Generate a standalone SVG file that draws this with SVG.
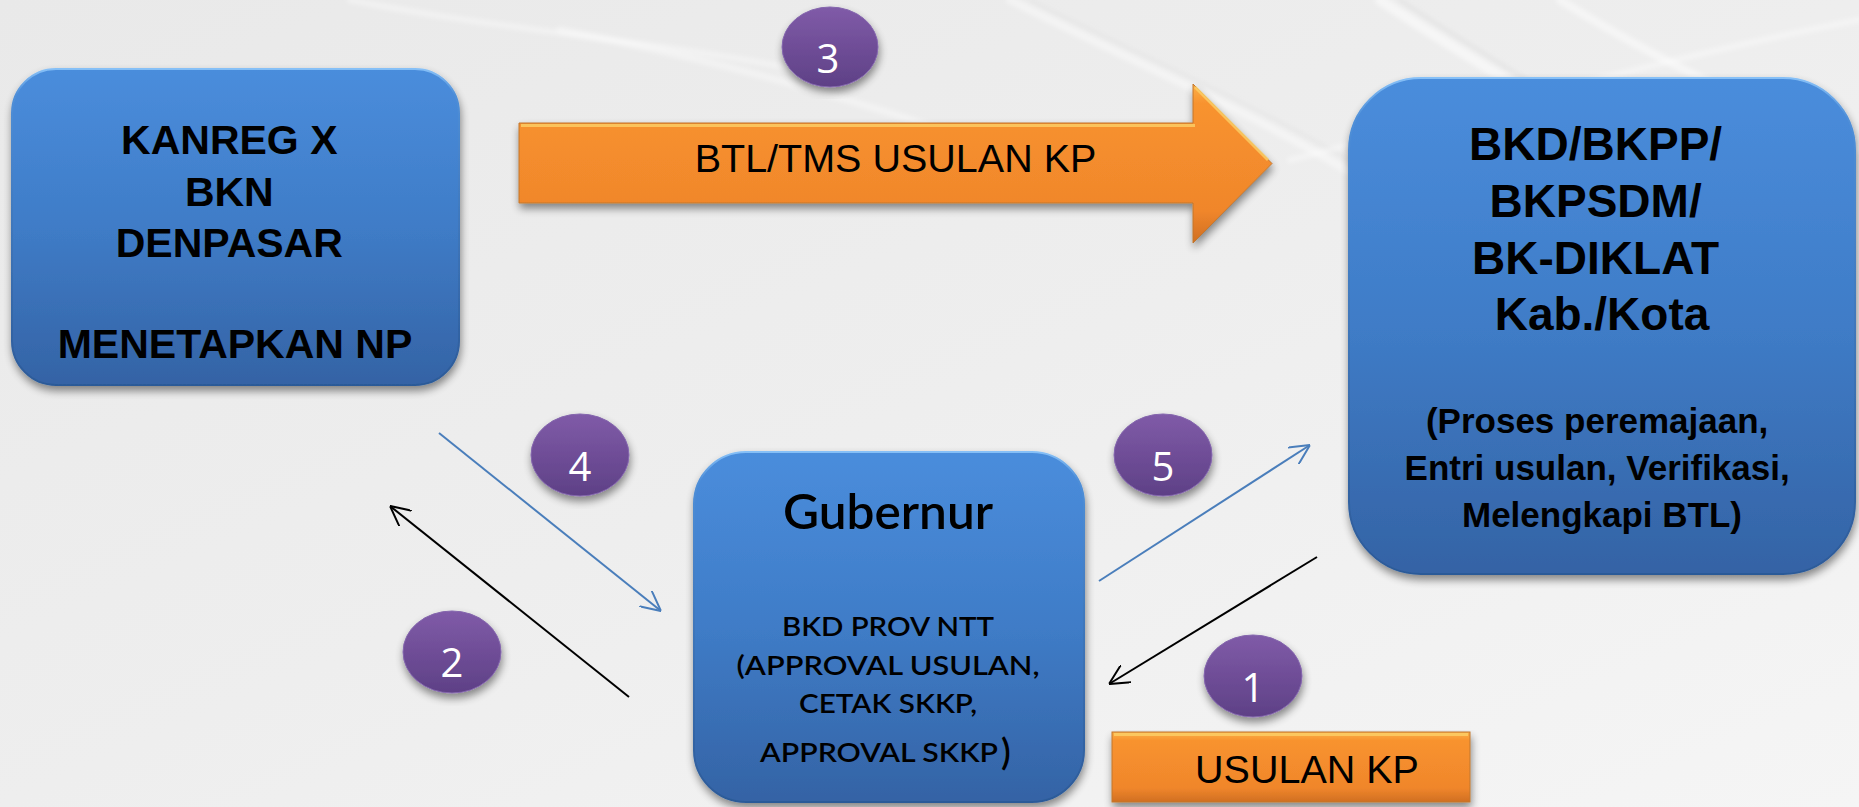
<svg xmlns="http://www.w3.org/2000/svg" width="1859" height="807" viewBox="0 0 1859 807">
<defs>
<linearGradient id="bg" x1="0" y1="0" x2="1" y2="1">
<stop offset="0" stop-color="#e9e9e9"/>
<stop offset="0.5" stop-color="#eeeeee"/>
<stop offset="1" stop-color="#f5f5f5"/>
</linearGradient>
<linearGradient id="blue" x1="0" y1="0" x2="0" y2="1">
<stop offset="0" stop-color="#4a8ddc"/>
<stop offset="0.5" stop-color="#3f7cc7"/>
<stop offset="1" stop-color="#3463a5"/>
</linearGradient>
<linearGradient id="blueEdge" x1="0" y1="0" x2="0" y2="1">
<stop offset="0" stop-color="#86c0f7"/>
<stop offset="0.08" stop-color="#4f8fd8"/>
<stop offset="1" stop-color="#2c5a98"/>
</linearGradient>
<linearGradient id="orange" x1="0" y1="0" x2="0" y2="1">
<stop offset="0" stop-color="#fbb048"/>
<stop offset="0.12" stop-color="#f8932f"/>
<stop offset="0.8" stop-color="#f0862b"/>
<stop offset="1" stop-color="#d06f22"/>
</linearGradient>
<linearGradient id="purple" x1="0" y1="0" x2="0" y2="1">
<stop offset="0" stop-color="#805ba8"/>
<stop offset="1" stop-color="#5e4086"/>
</linearGradient>
<filter id="shadow" x="-10%" y="-10%" width="120%" height="125%">
<feGaussianBlur in="SourceAlpha" stdDeviation="4"/>
<feOffset dx="1" dy="5" result="b"/>
<feComponentTransfer><feFuncA type="linear" slope="0.45"/></feComponentTransfer>
<feMerge><feMergeNode/><feMergeNode in="SourceGraphic"/></feMerge>
</filter>
<filter id="soft" x="-5%" y="-20%" width="110%" height="140%">
<feGaussianBlur stdDeviation="2"/>
</filter>
<marker id="headBlue" viewBox="0 0 10 10" refX="10" refY="5" markerWidth="10" markerHeight="10" markerUnits="strokeWidth" orient="auto">
<path d="M0,0 L10,5 L0,10" fill="none" stroke="#4a7ebb" stroke-width="1"/>
</marker>
<marker id="headBlack" viewBox="0 0 10 10" refX="10" refY="5" markerWidth="10" markerHeight="10" markerUnits="strokeWidth" orient="auto">
<path d="M0,0 L10,5 L0,10" fill="none" stroke="#000000" stroke-width="1"/>
</marker>
</defs>
<style>
.box{fill:url(#blue);stroke:url(#blueEdge);stroke-width:2;filter:url(#shadow)}
.arial{font-family:"Liberation Sans",Arial,sans-serif;fill:#000}
.bold{font-weight:bold}
.tw{font-family:Lato,"Open Sans",sans-serif;font-weight:600;fill:#000}
.badge{fill:url(#purple);stroke:#8466ad;stroke-width:1;filter:url(#shadow)}
.num{font-family:"Open Sans",Lato,sans-serif;font-size:40px;fill:#fff;text-anchor:middle}
.orange{fill:url(#orange);stroke:#c0762e;stroke-width:1;filter:url(#shadow)}
.conn-blue{stroke:#4a7ebb;stroke-width:2;fill:none;marker-end:url(#headBlue)}
.conn-black{stroke:#000;stroke-width:2;fill:none;marker-end:url(#headBlack)}
.streak{fill:none;stroke:#ffffff;stroke-linecap:round}
.streak-d{fill:none;stroke:#d8d8d8;stroke-linecap:round}
</style>
<rect x="0" y="0" width="1859" height="807" fill="url(#bg)"/>
<g id="background-streaks" filter="url(#soft)">
<path class="streak" d="M1380,0 C1470,60 1560,110 1700,200" stroke-width="10" opacity="0.5"/>
<path class="streak-d" d="M1400,0 C1490,60 1580,110 1720,200" stroke-width="4" opacity="0.35"/>
<path class="streak" d="M1560,0 C1640,50 1720,90 1859,150" stroke-width="8" opacity="0.45"/>
<path class="streak" d="M1010,0 C1150,70 1250,110 1380,190" stroke-width="8" opacity="0.4"/>
<path class="streak-d" d="M1030,0 C1170,70 1270,110 1400,190" stroke-width="3" opacity="0.3"/>
<path class="streak" d="M560,30 C720,60 900,110 1080,180" stroke-width="7" opacity="0.35"/>
<path class="streak" d="M350,0 C500,30 650,40 800,70" stroke-width="6" opacity="0.35"/>
<path class="streak" d="M1290,160 C1450,120 1650,60 1859,20" stroke-width="6" opacity="0.35"/>
</g>
<g id="connectors">
<line class="conn-blue" x1="439" y1="433" x2="661" y2="611"/>
<line class="conn-black" x1="629" y1="697" x2="390" y2="506"/>
<line class="conn-blue" x1="1099" y1="581" x2="1310" y2="445"/>
<line class="conn-black" x1="1317" y1="557" x2="1109" y2="684"/>
</g>
<g id="node-kanreg">
<rect class="box" x="12" y="69" width="447" height="316" rx="44" ry="44"/>
<text class="arial bold" font-size="41" text-anchor="middle">
<tspan x="235" y="154">KANREG X</tspan>
<tspan x="235" y="206">BKN</tspan>
<tspan x="235" y="257">DENPASAR</tspan>
<tspan x="235" y="358">MENETAPKAN NP</tspan>
</text>
</g>
<g id="node-bkd">
<rect class="box" x="1349" y="78" width="506" height="496" rx="72" ry="72"/>
<text class="arial bold" font-size="46" text-anchor="middle">
<tspan x="1602" y="160">BKD/BKPP/</tspan>
<tspan x="1602" y="217">BKPSDM/</tspan>
<tspan x="1602" y="274">BK-DIKLAT</tspan>
<tspan x="1602" y="330">Kab./Kota</tspan>
</text>
<text class="arial bold" font-size="35" text-anchor="middle">
<tspan x="1602" y="433">(Proses peremajaan,</tspan>
<tspan x="1602" y="480">Entri usulan, Verifikasi,</tspan>
<tspan x="1602" y="527">Melengkapi BTL)</tspan>
</text>
</g>
<g id="node-gubernur">
<rect class="box" x="694" y="452" width="390" height="350" rx="52" ry="52"/>
<text class="tw" font-size="48" text-anchor="middle" x="888" y="529" textLength="210" lengthAdjust="spacingAndGlyphs">Gubernur</text>
<text class="tw" font-size="27" text-anchor="middle" x="888" y="636" textLength="212" lengthAdjust="spacingAndGlyphs">BKD PROV NTT</text>
<text class="tw" font-size="27" text-anchor="middle" x="888" y="675" textLength="303" lengthAdjust="spacingAndGlyphs">(APPROVAL USULAN,</text>
<text class="tw" font-size="27" text-anchor="middle" x="888" y="713" textLength="178" lengthAdjust="spacingAndGlyphs">CETAK SKKP,</text>
<text class="tw" font-size="27" x="760" y="762" textLength="238" lengthAdjust="spacingAndGlyphs">APPROVAL SKKP</text>
<text class="tw" font-size="36" x="1001" y="765">)</text>
</g>
<g id="node-arrow-btl">
<path class="orange" d="M519,123 H1193 V84 L1272,163.5 L1193,243 V203 H519 Z"/>
<path d="M521,125.5 H1195 M1195,87 L1268,160" stroke="#fdd067" stroke-width="3" fill="none" opacity="0.8"/>
<text class="arial" font-size="39.5" text-anchor="middle" x="895.5" y="172">BTL/TMS USULAN KP</text>
</g>
<g id="node-usulan">
<rect class="orange" x="1112" y="732" width="358" height="70"/>
<path d="M1114,734.5 H1468" stroke="#fdd067" stroke-width="3" fill="none" opacity="0.8"/>
<text class="arial" font-size="39.5" text-anchor="middle" x="1307" y="783">USULAN KP</text>
</g>
<g id="badge-1">
<ellipse class="badge" cx="1253" cy="676" rx="49" ry="41"/>
<text class="num" x="1253" y="702">1</text>
</g>
<g id="badge-2">
<ellipse class="badge" cx="452" cy="652" rx="49" ry="41"/>
<text class="num" x="452" y="677">2</text>
</g>
<g id="badge-3">
<ellipse class="badge" cx="830" cy="47" rx="48" ry="40"/>
<text class="num" x="828" y="73">3</text>
</g>
<g id="badge-4">
<ellipse class="badge" cx="580" cy="455" rx="49" ry="41"/>
<text class="num" x="580" y="481">4</text>
</g>
<g id="badge-5">
<ellipse class="badge" cx="1163" cy="455" rx="49" ry="41"/>
<text class="num" x="1163" y="481">5</text>
</g>
</svg>
